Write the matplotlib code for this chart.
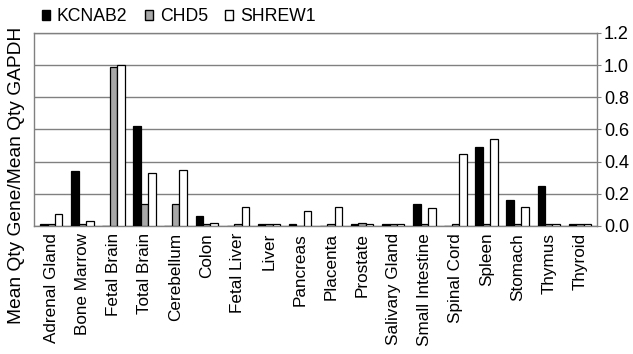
import numpy as np
import matplotlib.pyplot as plt
from matplotlib.patches import Patch

# tissues and relative expression (Mean Qty Gene / Mean Qty GAPDH)
tissues = ["Adrenal Gland", "Bone Marrow", "Fetal Brain", "Total Brain", "Cerebellum",
           "Colon", "Fetal Liver", "Liver", "Pancreas", "Placenta", "Prostate",
           "Salivary Gland", "Small Intestine", "Spinal Cord", "Spleen", "Stomach",
           "Thymus", "Thyroid"]
kcnab2 = [0.01, 0.34, 0.0, 0.62, 0.0, 0.06, 0.0, 0.01, 0.01, 0.0, 0.01,
          0.01, 0.135, 0.0, 0.49, 0.16, 0.25, 0.01]
chd5 = [0.01, 0.01, 0.99, 0.135, 0.135, 0.01, 0.01, 0.01, 0.0, 0.01, 0.02,
        0.01, 0.01, 0.01, 0.01, 0.01, 0.01, 0.01]
shrew1 = [0.075, 0.03, 1.0, 0.33, 0.35, 0.02, 0.12, 0.01, 0.093, 0.115, 0.01,
          0.01, 0.11, 0.45, 0.54, 0.12, 0.01, 0.01]

plt.rcParams['font.family'] = ['Liberation Sans', 'DejaVu Sans']

fig = plt.figure(figsize=(6.33, 3.54), dpi=100)
ax = fig.add_axes([0.054, 0.362, 0.889, 0.545])

x = np.arange(len(tissues))
w = 0.24
series = [(kcnab2, "black", "KCNAB2"), (chd5, "#a8a8a8", "CHD5"), (shrew1, "white", "SHREW1")]
for i, (vals, col, name) in enumerate(series):
    ax.bar(x + (i - 1) * w, vals, width=w, color=col, edgecolor="black",
           linewidth=0.9, zorder=3)

ax.set_xlim(-0.55, len(tissues) - 0.45)
ax.set_ylim(0, 1.2)
ax.set_yticks(np.arange(0, 1.21, 0.2))
ax.set_yticklabels([f"{v:.1f}" for v in np.arange(0, 1.21, 0.2)], fontsize=13)
ax.yaxis.tick_right()
ax.tick_params(axis="y", length=3, color="#808080", pad=2)
ax.set_xticks(x)
ax.set_xticklabels(tissues, rotation=90, fontsize=12.3)
ax.tick_params(axis="x", length=0, pad=5)
ax.grid(axis="y", color="#808080", linewidth=1, zorder=0)
for s in ax.spines.values():
    s.set_color("#808080")
    s.set_linewidth(1)

fig.text(0.026, 0.505, "Mean Qty Gene/Mean Qty GAPDH", rotation=90, fontsize=13.8,
         ha="center", va="center")

handles = [Patch(facecolor=c, edgecolor="black", label=n) for _, c, n in series]
ax.legend(handles=handles, loc="lower left", bbox_to_anchor=(0.01, 1.03), ncol=3,
          frameon=False, fontsize=12.7, handlelength=0.45, handleheight=0.55,
          handletextpad=0.4, columnspacing=1.0, borderaxespad=0, borderpad=0.1)

fig.savefig("out.png", dpi=100)
